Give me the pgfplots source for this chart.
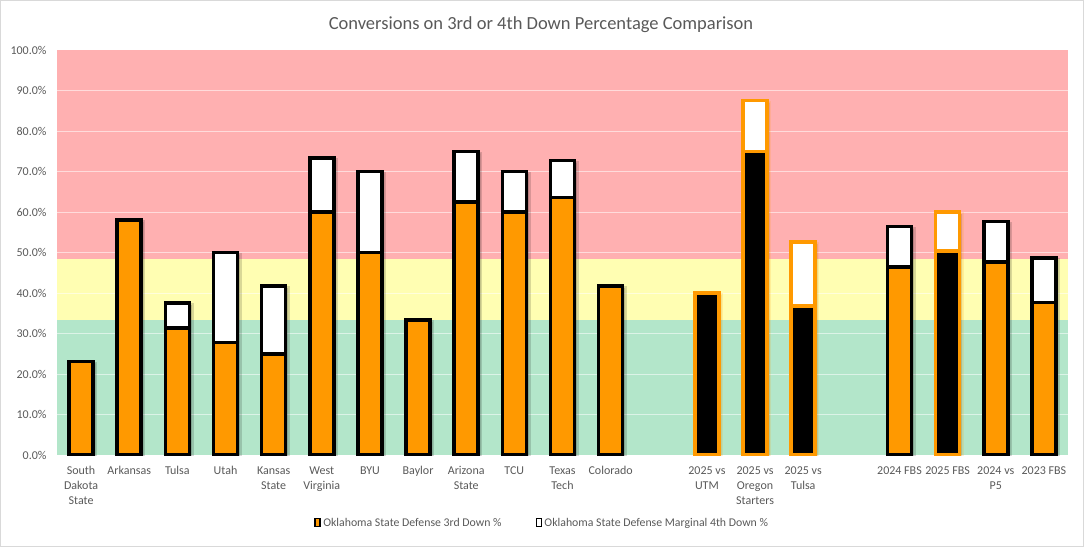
\documentclass[border=0pt]{standalone}
\usepackage{pgfplots}
\pgfplotsset{compat=1.18}
\usepackage{pgfplotstable}
\usepackage{fontspec}
\setmainfont{Carlito}

\definecolor{barorange}{HTML}{FF9900}
\definecolor{bandred}{HTML}{FFB0B1}
\definecolor{bandyellow}{HTML}{FFFEB2}
\definecolor{bandgreen}{HTML}{B3E6CA}
\definecolor{txtgray}{HTML}{595959}
\definecolor{framegray}{HTML}{D9D9D9}

% x = slot index (12 and 16 are the empty gaps)
\pgfplotstableread{
x third total
0  23.1 23.1
1  58.0 58.0
2  31.3 37.5
3  27.8 50.0
4  25.0 41.7
5  60.0 73.3
6  50.0 70.0
7  33.3 33.3
8  62.5 75.0
9  60.0 70.0
10 63.6 72.7
11 41.7 41.7
17 46.4 56.4
19 47.7 57.6
20 37.7 48.6
}\regulardata

% 2025 bars: black 3rd down, orange outline
\pgfplotstableread{
x third total
13 40.0 40.0
14 75.0 87.5
15 36.8 52.6
18 50.4 60.0
}\specialdata

\begin{document}
\begin{tikzpicture}
\path[use as bounding box] (0,0) rectangle (1084pt,547pt);
\draw[framegray, line width=1pt] (0.5pt,0.5pt) rectangle (1083.5pt,546.5pt);
\node[txtgray, font=\fontsize{18.5}{20}\selectfont] at (541pt,522pt)
  {Conversions on 3rd or 4th Down Percentage Comparison};

\begin{axis}[
    at={(57pt,92pt)}, anchor=south west,
    width=1011pt, height=405pt, scale only axis,
    xmin=-0.5, xmax=20.5, ymin=0, ymax=100,
    axis line style={draw=none},
    major tick length=0pt,
    xtick={0,1,2,3,4,5,6,7,8,9,10,11,13,14,15,17,18,19,20},
    xticklabels={South\\Dakota\\State, Arkansas, Tulsa, Utah, Kansas\\State,
      West\\Virginia, BYU, Baylor, Arizona\\State, TCU, Texas\\Tech, Colorado,
      2025 vs\\UTM, 2025 vs\\Oregon\\Starters, 2025 vs\\Tulsa,
      2024 FBS, 2025 FBS, 2024 vs\\P5, 2023 FBS},
    xticklabel style={align=center, font=\fontsize{12}{15}\selectfont,
      text=txtgray, yshift=-8pt},
    ytick={0,10,...,100},
    yticklabel={\pgfmathprintnumber[fixed, fixed zerofill, precision=1]{\tick}\%},
    yticklabel style={font=\fontsize{12}{14}\selectfont, text=txtgray, xshift=-7pt},
    /pgf/number format/assume math mode=true,
    legend style={at={(0.48,-0.168)}, anchor=center, draw=none, fill=none,
      legend columns=2, font=\fontsize{11.8}{14}\selectfont, text=txtgray,
      /tikz/every even column/.append style={column sep=32pt}},
    legend image code/.code={\draw[#1, line width=1.8pt] (0pt,-3.5pt) rectangle (5pt,4.5pt);},
]
% threshold bands
\fill[bandgreen] (-0.5,0) rectangle (20.5,33.4);
\fill[bandyellow] (-0.5,33.4) rectangle (20.5,48.5);
\fill[bandred] (-0.5,48.5) rectangle (20.5,100);
\pgfplotsinvokeforeach{10,20,30,40,50,60,70,80,90}{
  \draw[white, opacity=0.55, line width=0.9pt] (-0.5,#1) -- (20.5,#1);
}

% total (3rd + marginal 4th) drawn first, 3rd down on top
\addplot[ybar, bar width=24pt, bar shift=0pt, fill=white, draw=black,
  line width=3.5pt, forget plot,
  preaction={fill=black, opacity=0.15, transform canvas={shift={(2.5pt,-2pt)}}}]
  table[x=x, y=total] {\regulardata};
\addplot[ybar, bar width=24pt, bar shift=0pt, fill=barorange, draw=black,
  line width=3.5pt, forget plot]
  table[x=x, y=third] {\regulardata};
\addplot[ybar, bar width=24pt, bar shift=0pt, fill=white, draw=barorange,
  line width=3.5pt, forget plot,
  preaction={fill=black, opacity=0.15, transform canvas={shift={(2.5pt,-2pt)}}}]
  table[x=x, y=total] {\specialdata};
\addplot[ybar, bar width=24pt, bar shift=0pt, fill=black, draw=barorange,
  line width=3.5pt, forget plot]
  table[x=x, y=third] {\specialdata};

\addlegendimage{fill=barorange, draw=black}
\addlegendentry{Oklahoma State Defense 3rd Down \%}
\addlegendimage{fill=white, draw=black}
\addlegendentry{Oklahoma State Defense Marginal 4th Down \%}
\end{axis}
\end{tikzpicture}
\end{document}
